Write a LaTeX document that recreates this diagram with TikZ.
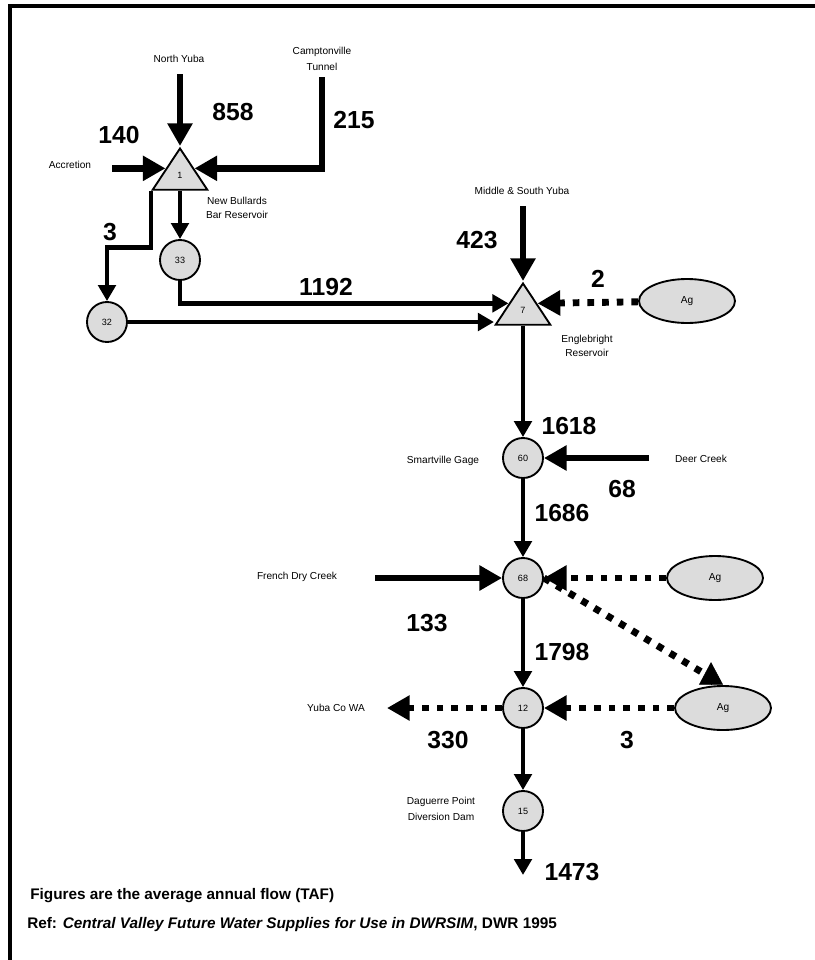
\documentclass[tikz,border=0pt]{standalone}
\usepackage{fontspec}
\setmainfont{Liberation Sans}
\usetikzlibrary{positioning,shapes.geometric,arrows.meta,calc}
\definecolor{nodegray}{RGB}{220,220,220}

\begin{document}
\begin{tikzpicture}[
    x=0.75pt, y=-0.75pt,
    Basin/.style={
        circle,
        draw,
        line width=1.4pt,
        fill=nodegray,
        minimum size=30pt,
        inner sep=0pt,
        font=\fontsize{6.8}{8}\selectfont
    },
    Res/.style={
        isosceles triangle,
        shape border rotate=90,
        isosceles triangle stretches,
        draw,
        line width=1.4pt,
        fill=nodegray,
        minimum width=41pt,
        minimum height=31pt,
        inner sep=0pt,
        font=\fontsize{6.8}{8}\selectfont
    },
    Ag/.style={
        ellipse,
        draw,
        line width=1.4pt,
        fill=nodegray,
        minimum width=72pt,
        minimum height=33pt,
        inner sep=0pt,
        font=\fontsize{7.6}{9}\selectfont
    },
    lbl/.style={inner sep=0pt, align=center, font=\fontsize{7.6}{10}\selectfont},
    num/.style={inner sep=0pt, font=\fontsize{18.5}{20}\selectfont\bfseries},
    foot/.style={inner sep=0pt, anchor=base west, font=\fontsize{11.5}{13}\selectfont\bfseries},
    flow/.style={line width=3.4pt, -{Triangle[length=12pt,width=13pt]}},
    bigflow/.style={line width=5.2pt, -{Triangle[length=17pt,width=18pt]}},
    agline/.style={line width=5.2pt, dash pattern=on 5pt off 6pt},
    agflow/.style={agline, -{Triangle[length=17pt,width=18pt]}}
]
\useasboundingbox (0,0) rectangle (814,960);
\draw[line width=3pt] (9.5,965) -- (9.5,6) -- (820,6);

% reservoirs and nodes
\node[Res, anchor=apex] (tri1) at (180,146) {1};
\node[Res, anchor=apex] (tri7) at (523,281) {7};
\node[Basin] (n33) at (180,260) {33};
\node[Basin] (n32) at (107,322) {32};
\node[Basin] (n60) at (523,458) {60};
\node[Basin] (n68) at (523,578) {68};
\node[Basin] (n12) at (523,708) {12};
\node[Basin] (n15) at (523,811) {15};
\node[Ag] (ag1) at (687,301) {Ag};
\node[Ag] (ag2) at (715,578) {Ag};
\node[Ag] (ag3) at (723,708) {Ag};

% names
\node[lbl] (nyuba) at (179,59) {North Yuba};
\node[lbl] (campt) at (322,59) {Camptonville\\[2pt]Tunnel};
\node[lbl] (accr) at (70,165) {Accretion};
\node[lbl] (bullards) at (237,208) {New Bullards\\Bar Reservoir};
\node[lbl] (msyuba) at (522,191) {Middle \& South Yuba};
\node[lbl] (engle) at (587,346) {Englebright\\Reservoir};
\node[lbl] (smart) at (443,461) {Smartville Gage};
\node[lbl] (deer) at (701,459) {Deer Creek};
\node[lbl] (french) at (297,577) {French Dry Creek};
\node[lbl] (yubawa) at (336,708) {Yuba Co WA};
\node[lbl] (daguerre) at (441,809) {Daguerre Point\\[2pt]Diversion Dam};

% flows (TAF)
\node[num] (f858) at (233,112) {858};
\node[num] (f215) at (354,120) {215};
\node[num] (f140) at (119,135) {140};
\node[num] (f3a) at (110,232) {3};
\node[num] (f1192) at (326,287) {1192};
\node[num] (f423) at (477,240) {423};
\node[num] (f2) at (598,279) {2};
\node[num] (f1618) at (569,426) {1618};
\node[num] (f68) at (622,489) {68};
\node[num] (f1686) at (562,513) {1686};
\node[num] (f133) at (427,623) {133};
\node[num] (f1798) at (562,652) {1798};
\node[num] (f330) at (448,740) {330};
\node[num] (f3b) at (627,740) {3};
\node[num] (f1473) at (572,872) {1473};

\coordinate (nyubaS) at (180,74);
\coordinate (camptS) at (322,77);
\coordinate (accS) at (112,167);
\coordinate (msyS) at (523,206);
\coordinate (deerS) at (649,458);
\coordinate (frenchS) at (375,578);
\coordinate (yubaT) at (387,708);
\coordinate (outT) at (523,875);
\coordinate (ag3in) at ($(ag3.north)+(-12,-1)$);

\draw[bigflow] (nyubaS) -- (tri1.apex);
\draw[bigflow] (camptS) |- (tri1.right side);
\draw[bigflow] (accS |- tri1.left side) -- (tri1.left side);
\draw[flow] (tri1.lower side) -- (n33);
\draw[flow] (tri1.left corner) -- ++(0,57) -| (n32);
\draw[flow] (n33) |- (tri7.left side);
\draw[flow] (n32) -- (n32 -| tri7.left corner);
\draw[bigflow] (msyS) -- (tri7.apex);
\draw[agflow] (ag1) -- (tri7.right side);
\draw[flow] (tri7.lower side) -- (n60);
\draw[bigflow] (deerS) -- (n60);
\draw[flow] (n60) -- (n68);
\draw[bigflow] (frenchS) -- (n68);
\draw[agflow] (ag2) -- (n68);
\draw[agline] (n68.east) -- ($(ag3in)+(-6,-10)$);
\draw[-{Triangle[length=17pt,width=18pt]}] (ag3in) -- ++(0,-22);
\draw[flow] (n68) -- (n12);
\draw[agflow] (ag3) -- (n12);
\draw[agflow] (n12) -- (yubaT);
\draw[flow] (n12) -- (n15);
\draw[flow] (n15) -- (outT);

\node[foot] (note) at (30,899) {Figures are the average annual flow (TAF)};
\node[foot] (ref) at (27,928) {Ref: \textit{Central Valley Future Water Supplies for Use in DWRSIM}, DWR 1995};
\end{tikzpicture}
\end{document}
